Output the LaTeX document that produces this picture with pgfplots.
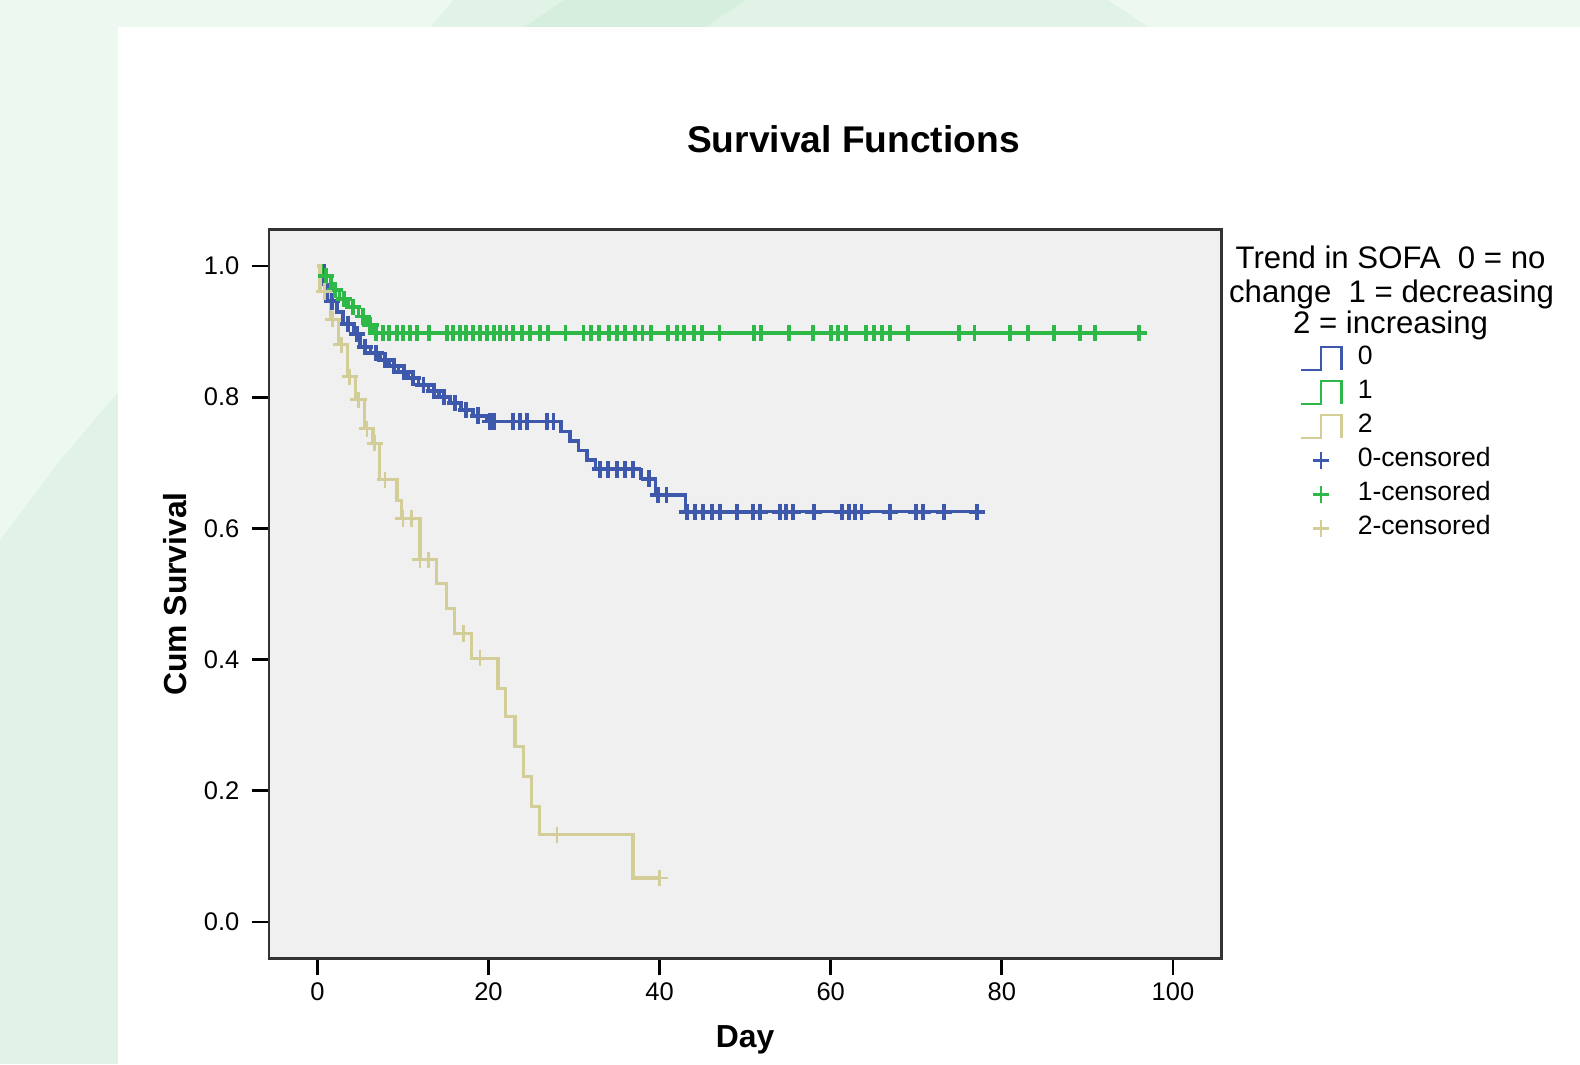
\documentclass[border=0pt]{standalone}
\usepackage{pgfplots}
\pgfplotsset{compat=1.18}
\usepackage{fontspec}
\setmainfont{Liberation Sans}

\definecolor{kmblue}{RGB}{62,88,172}
\definecolor{kmgreen}{RGB}{46,184,72}
\definecolor{kmtan}{RGB}{211,206,151}
\definecolor{plotbg}{RGB}{240,240,240}
\definecolor{slidegreen}{RGB}{224,243,230}
\definecolor{slidepale}{RGB}{236,248,240}
\definecolor{slidedark}{RGB}{214,238,222}

\pgfplotsset{
  steplegend/.style={legend image code/.code={
    \draw[##1, line width=0.7pt] (0cm,-0.115cm) -- (0.2cm,-0.115cm) -- (0.2cm,0.115cm)
      -- (0.4cm,0.115cm) -- (0.4cm,-0.115cm);}},
  marklegend/.style={legend image code/.code={
    \path[draw=none, fill=none] (0cm,-0.115cm) rectangle (0.4cm,0.115cm);
    \draw[##1, line width=0.7pt] plot coordinates {(0.2cm,0cm)};}},
}

\begin{document}
\begin{tikzpicture}
% slide background and white panel
\path[use as bounding box] (0,0) rectangle (15.68,10.56);
\fill[slidegreen] (0,0) rectangle (15.68,10.56);
\fill[slidepale] (0,10.56) -- (4.5,10.56) -- (0.6,6.0) -- (0,5.2) -- cycle;
\fill[slidedark] (5.6,10.56) -- (7.4,10.56) -- (7.0,10.29) -- (5.2,10.29) -- cycle;
\fill[slidepale] (11.0,10.56) -- (15.68,10.56) -- (15.68,10.29) -- (11.4,10.29) -- cycle;
\fill[white] (1.17,0) rectangle (15.68,10.29);

\node[anchor=base, font=\bfseries\fontsize{10.5}{12}\selectfont] at (8.47,9.05) {Survival Functions};

% legend title
\begin{scope}[every node/.style={anchor=base, font=\fontsize{8.8}{9.6}\selectfont}]
\node at (13.80,7.90) {Trend in SOFA\ \ 0 = no};
\node at (13.81,7.56) {change\ \ 1 = decreasing};
\node at (13.80,7.25) {2 = increasing};
\end{scope}

\begin{axis}[
  at={(2.67cm,1.05cm)}, anchor=south west,
  width=9.45cm, height=7.23cm, scale only axis,
  xmin=-5.65, xmax=105.65, ymin=-0.0553, ymax=1.0553,
  xtick={0,20,40,60,80,100},
  ytick={0,0.2,0.4,0.6,0.8,1.0},
  yticklabel style={/pgf/number format/.cd, fixed, fixed zerofill, precision=1},
  xticklabel style={yshift=1.5pt},
  /pgf/number format/assume math mode=true,
  tick align=outside, xtick pos=bottom, ytick pos=left,
  major tick length=0.17cm,
  tick style={black, line width=0.8pt},
  axis line style={black!80, line width=0.8pt},
  axis background/.style={fill=plotbg},
  tick label style={font=\fontsize{7.2}{8}\selectfont},
  xlabel={Day}, ylabel={Cum Survival},
  label style={font=\bfseries\fontsize{9}{10}\selectfont},
  xlabel style={at={(axis description cs:0.5,-0.123)}, anchor=base},
  ylabel style={at={(axis description cs:-0.0868,0.5)}, anchor=base},
  legend cell align=left,
  legend style={at={(axis description cs:1.0825,0.8465)}, anchor=north west,
    draw=none, fill=none, inner sep=0pt, outer sep=0pt,
    font=\fontsize{7.5}{9}\selectfont, row sep=0pt,
    nodes={inner sep=0pt, text height=6.6pt, text depth=3.0pt},
    /tikz/every odd column/.append style={column sep=0.15cm}},
]

% survival step curves
\addplot[const plot, kmblue, line width=1.0pt, steplegend] table {
0 1.000
0.8 0.972
1.2 0.946
2.3 0.930
3.0 0.912
4.3 0.896
5.0 0.877
6.2 0.867
7.3 0.857
8.4 0.848
9.5 0.838
10.6 0.829
11.8 0.819
13.0 0.810
14.2 0.800
15.5 0.791
16.8 0.781
18.2 0.772
19.8 0.763
28.5 0.748
29.5 0.733
30.5 0.719
31.5 0.704
32.5 0.690
37.8 0.676
39.5 0.651
43.0 0.6255
77.3 0.6255
};

\addplot[const plot, kmgreen, line width=1.0pt, steplegend] table {
0 1.000
0.5 0.985
1.6 0.963
2.6 0.950
3.6 0.938
4.8 0.923
5.8 0.910
6.6 0.898
96.0 0.898
};

\addplot[const plot, kmtan, line width=0.9pt, steplegend] table {
0 1.000
0.3 0.961
1.5 0.919
2.5 0.880
3.5 0.831
4.5 0.796
5.5 0.752
6.5 0.730
7.3 0.674
9.3 0.643
9.8 0.615
12.0 0.552
13.9 0.516
15.1 0.478
16.0 0.440
18.0 0.402
21.1 0.356
22.0 0.313
23.1 0.267
24.1 0.222
25.0 0.176
26.0 0.133
36.9 0.067
40.0 0.067
};

% censored cases
\addplot[only marks, mark=+, kmblue, mark size=2.3pt, line width=1.1pt, marklegend] table {
1.7 0.946
3.6 0.912
4.6 0.896
5.6 0.877
6.8 0.867
7.9 0.857
9.0 0.848
10.1 0.838
11.2 0.829
12.4 0.819
13.6 0.810
14.8 0.800
16.1 0.791
17.4 0.781
18.8 0.772
20.2 0.763
20.6 0.763
22.9 0.763
23.7 0.763
24.5 0.763
26.8 0.763
27.6 0.763
33.0 0.690
34.0 0.690
35.0 0.690
36.0 0.690
36.9 0.690
38.8 0.676
39.8 0.651
40.8 0.651
43.2 0.6255
44.1 0.6255
45.1 0.6255
46.1 0.6255
47.1 0.6255
49.0 0.6255
50.9 0.6255
51.7 0.6255
54.1 0.6255
54.8 0.6255
55.6 0.6255
58.0 0.6255
61.3 0.6255
62.1 0.6255
62.8 0.6255
63.6 0.6255
66.9 0.6255
70.0 0.6255
70.8 0.6255
73.2 0.6255
77.1 0.6255
};

\addplot[only marks, mark=+, kmgreen, mark size=2.3pt, line width=1.1pt, marklegend] table {
1.0 0.985
2.1 0.963
3.1 0.950
4.2 0.938
5.3 0.923
6.2 0.910
6.9 0.898
7.7 0.898
8.4 0.898
9.3 0.898
10.0 0.898
10.8 0.898
11.6 0.898
13.0 0.898
15.1 0.898
15.9 0.898
16.7 0.898
17.4 0.898
18.2 0.898
19.0 0.898
19.8 0.898
20.6 0.898
21.3 0.898
22.1 0.898
22.9 0.898
23.9 0.898
24.8 0.898
26.0 0.898
27.0 0.898
29.0 0.898
31.1 0.898
32.0 0.898
32.9 0.898
34.1 0.898
35.0 0.898
36.0 0.898
37.1 0.898
38.0 0.898
39.0 0.898
41.0 0.898
42.0 0.898
42.9 0.898
44.0 0.898
45.0 0.898
47.0 0.898
51.0 0.898
51.9 0.898
55.1 0.898
57.9 0.898
60.0 0.898
60.9 0.898
61.8 0.898
64.1 0.898
65.1 0.898
66.0 0.898
66.9 0.898
69.0 0.898
75.0 0.898
76.8 0.898
81.0 0.898
83.1 0.898
86.1 0.898
89.1 0.898
90.9 0.898
96.0 0.898
};

\addplot[only marks, mark=+, kmtan, mark size=2.3pt, line width=0.8pt, marklegend] table {
0.8 0.961
1.8 0.919
2.8 0.880
3.8 0.831
4.8 0.796
5.8 0.752
6.7 0.730
7.9 0.674
10.0 0.615
11.0 0.615
12.0 0.552
13.0 0.552
17.1 0.440
19.0 0.402
28.0 0.133
40.0 0.067
};

\legend{0,1,2,0-censored,1-censored,2-censored}
\end{axis}
\end{tikzpicture}
\end{document}
